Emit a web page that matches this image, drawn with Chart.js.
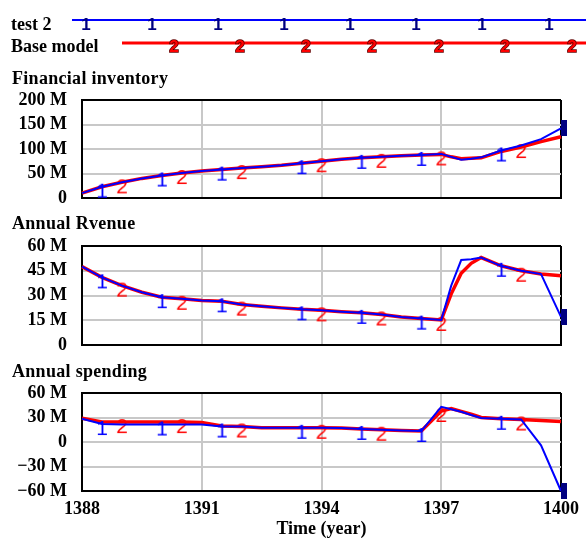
<!DOCTYPE html>
<html><head><meta charset="utf-8">
<script src="https://cdn.jsdelivr.net/npm/chart.js@4/dist/chart.umd.min.js"></script>
<style>
html,body{margin:0;padding:0;background:#fff;}
body{width:586px;height:540px;overflow:hidden;position:relative;}
.box{position:absolute;left:0;width:586px;}
.lbl{position:absolute;font:bold 18px "Liberation Serif",serif;color:#000;white-space:nowrap;line-height:1;}
</style></head><body>
<div class="box" style="top:0;height:215px"><canvas id="c1"></canvas></div>
<div class="box" style="top:200px;height:160px"><canvas id="c2"></canvas></div>
<div class="box" style="top:350px;height:190px"><canvas id="c3"></canvas></div>
<div class="lbl" style="left:11px;top:15px">test 2</div>
<div class="lbl" style="left:11px;top:37px">Base model</div>
<div class="lbl" style="left:12px;top:69px;letter-spacing:0.3px">Financial inventory</div>
<div class="lbl" style="left:12px;top:214px;letter-spacing:0.3px">Annual Rvenue</div>
<div class="lbl" style="left:12px;top:362px;letter-spacing:0.3px">Annual spending</div>
<script>
// ---- data ----
const years = [1388,1388.5,1389,1389.5,1390,1390.5,1391,1391.5,1392,1392.5,1393,1393.5,1394,1394.5,1395,1395.5,1396,1396.5,1397,1397.25,1397.5,1397.75,1398,1398.5,1399,1399.5,1400];
const seriesNames = ['test 2','Base model'];
const finTest2 = [10,23,32,40,46,51,55,58,61,64,67,71,75,79,82,84,86,88,90,84,78,80,83,97,107,120,142];
const finBase  = [10,23,32,40,46,51,55,58,61,64,67,71,75,79,82,84,86,88,89,84,80,81,82,95,104,115,125];
const revTest2 = [47.5,41,36,32,29,28,27,26.5,24.5,23.5,22.5,21.6,21,20.2,19.5,18.5,17,16,15.2,36,51.5,52,53,48,45,43,17];
const revBase  = [47.5,41,36,32,29,28,27,26.5,24.5,23.5,22.5,21.6,21,20.2,19.5,18.5,17,16,15.2,31,43.5,49.5,53,48,45,43,42];
const spTest2  = [28.4,22,21.5,21.5,21.5,21.5,21.5,19,19,17.5,17.4,17.4,17.4,17,16,15,14,13.4,43,40,37,33,29.3,28.4,27.6,-4,-60];
const spBase   = [29,24.4,24.4,24.4,24.4,24.4,24,19.5,19,17.5,17.4,17.4,17.4,17,16,15,14,13.4,38,41,37.5,34,30,28.4,27.6,26.4,25];
const marks1 = [1388.5,1390,1391.5,1393.5,1395,1396.5,1398.5];
const marks2 = [1389,1390.5,1392,1394,1395.5,1397,1399];
const xTicks = [1388,1391,1394,1397,1400];
const finTicks = [0,50,100,150,200];
const revTicks = [0,15,30,45,60];
const spTicks = [-60,-30,0,30,60];

const FONT = {family:'"Liberation Serif", serif', size:18, weight:'bold'};

function glyph(ch, color, font, stroke){
  const c = document.createElement('canvas');
  c.width = 22; c.height = 40;
  const g = c.getContext('2d');
  g.font = font; g.textAlign = 'center'; g.textBaseline = 'alphabetic';
  if (stroke){ g.lineWidth = 2; g.strokeStyle = stroke; g.strokeText(ch, 11, 31); }
  g.fillStyle = color; g.fillText(ch, 11, 31);
  return c;
}
const g1 = glyph('1', '#0000ff', '21px "Liberation Sans", sans-serif');
const g2 = glyph('2', '#ff0000', '21px "Liberation Sans", sans-serif');
const endSq = (function(){
  const c = document.createElement('canvas'); c.width = 14; c.height = 16;
  const g = c.getContext('2d'); g.fillStyle = '#000080'; g.fillRect(7,0,6,16); return c;
})();

function ds(label, data, color, width, marks, glyphCanvas, endMark){
  return {
    label, data: years.map((x,i)=>({x, y:data[i]})),
    borderColor: color, borderWidth: width, backgroundColor: color,
    tension: 0, clip: false,
    pointStyle: ctx => (endMark && ctx.dataIndex === years.length-1) ? endSq : (marks.includes(years[ctx.dataIndex]) ? glyphCanvas : false),
    pointRadius: ctx => ((endMark && ctx.dataIndex === years.length-1) || marks.includes(years[ctx.dataIndex])) ? 5 : 0,
  };
}

const legendPlugin = {
  id:'legendLines',
  afterDraw(chart){
    const c = chart.ctx; c.save();
    c.strokeStyle = '#0000ff'; c.lineWidth = 2;
    c.beginPath(); c.moveTo(72,20); c.lineTo(586,20); c.stroke();
    c.strokeStyle = '#ff0000'; c.lineWidth = 3;
    c.beginPath(); c.moveTo(122,43); c.lineTo(586,43); c.stroke();
    c.font = 'bold 17px "Liberation Sans", sans-serif'; c.textAlign = 'center'; c.textBaseline = 'alphabetic';
    c.fillStyle = '#000080';
    [86,152,218,284,350,416,482,549].forEach(x=>c.fillText('1', x, 30));
    c.lineWidth = 1.5; c.strokeStyle = '#600000'; c.fillStyle = '#ff0000';
    [174,240,306,372,439,505,572].forEach(x=>{c.strokeText('2', x, 52); c.fillText('2', x, 52);});
    c.restore();
  }
};

function makePanel(id, padTop, xH, ticks, blue, red, showX, plugins){
  const ymin = ticks[0], ymax = ticks[ticks.length-1];
  return new Chart(document.getElementById(id), {
    type:'line',
    data:{datasets:[
      ds(seriesNames[0], blue, '#0000ff', 2, marks1, g1, true),
      ds(seriesNames[1], red, '#ff0000', 3.5, marks2, g2, false)
    ]},
    options:{
      responsive:true, maintainAspectRatio:false, animation:false, events:[],
      layout:{padding:{top:padTop, right:25, left:0, bottom:0}},
      plugins:{legend:{display:false}, tooltip:{enabled:false}},
      scales:{
        x:{type:'linear', min:1388, max:1400,
          afterBuildTicks: s => { s.ticks = xTicks.map(v=>({value:v})); },
          ticks:{display:showX, font:FONT, color:'#000', padding:8, maxRotation:0, autoSkip:false, callback: v => String(v)},
          grid:{color: c => (c.tick && (c.tick.value===1388 || c.tick.value===1400)) ? '#000' : '#c8c8c8', lineWidth:2, drawTicks:false},
          border:{color:'#000', width:2},
          title:{display:showX, text:'Time (year)', font:FONT, color:'#000', padding:0},
          afterFit: s => { s.height = xH; s.paddingLeft = 0; s.paddingRight = 0; }
        },
        y:{min:ymin, max:ymax,
          afterBuildTicks: s => { s.ticks = ticks.map(v=>({value:v})); },
          ticks:{font:FONT, color:'#000', padding:15, autoSkip:false, callback: v => v===0 ? '0' : (v<0 ? '\u2212' + (-v) : v) + ' M'},
          grid:{color: c => (c.tick && (c.tick.value===ymin || c.tick.value===ymax)) ? '#000' : '#c8c8c8', lineWidth:2, drawTicks:false},
          border:{color:'#000', width:2},
          afterFit: s => { s.width = 82; s.paddingTop = 0; s.paddingBottom = 0; }
        }
      }
    },
    plugins: plugins || []
  });
}

makePanel('c1', 100, 17, finTicks, finTest2, finBase, false, [legendPlugin]);
makePanel('c2', 46, 15, revTicks, revTest2, revBase, false);
makePanel('c3', 43, 49, spTicks, spTest2, spBase, true);
</script>
</body></html>
